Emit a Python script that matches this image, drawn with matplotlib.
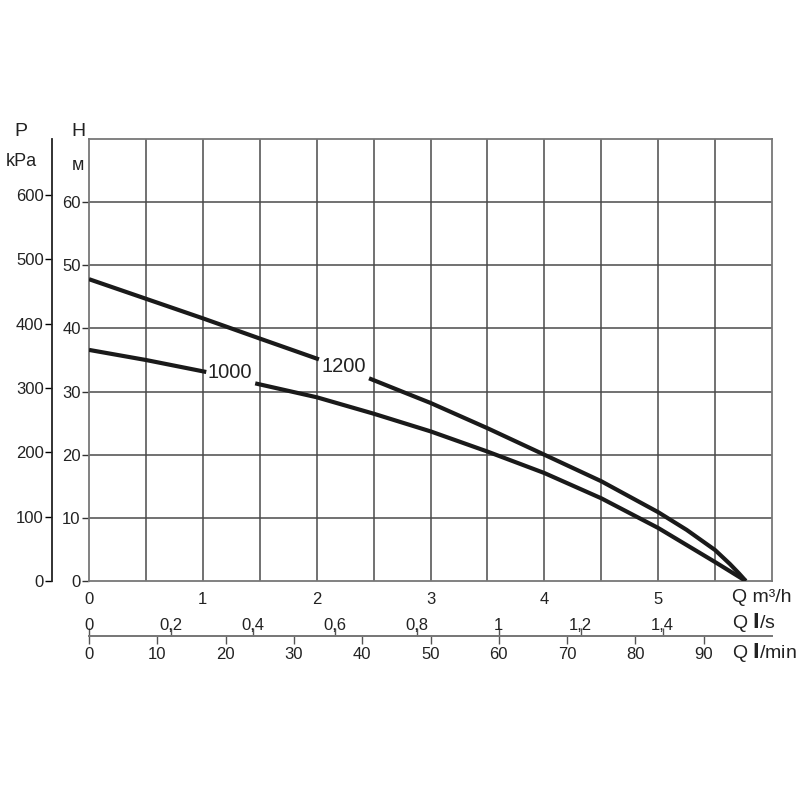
import numpy as np
import matplotlib
matplotlib.use("Agg")
import matplotlib.pyplot as plt

plt.rcParams['font.family'] = ['Liberation Sans', 'DejaVu Sans']
plt.rcParams['mathtext.fontset'] = 'dejavusans'

# pump curves, Q in m3/h, H in m (nan = gap for the label)
q_1200 = [0, 0.5, 1.0, 1.5, 2.02, np.nan, 2.46, 2.75, 3.0, 3.5, 4.0, 4.5, 5.0, 5.25, 5.5, 5.63, 5.71, 5.77]
h_1200 = [47.8, 44.7, 41.6, 38.4, 35.1, np.nan, 32.1, 30.0, 28.2, 24.2, 20.0, 15.8, 10.9, 8.1, 4.9, 2.7, 1.2, 0]

q_1000 = [0, 0.5, 1.03, np.nan, 1.46, 2.0, 2.5, 3.0, 3.5, 4.0, 4.5, 5.0, 5.25, 5.5, 5.77]
h_1000 = [36.6, 35.0, 33.1, np.nan, 31.3, 29.1, 26.5, 23.7, 20.5, 17.1, 13.1, 8.4, 5.7, 3.0, 0]

labels = ["1000", "1200"]
label_pos = [(1.24, 33.0), (2.24, 33.9)]

h_ticks = [0, 10, 20, 30, 40, 50, 60]
p_ticks = [0, 100, 200, 300, 400, 500, 600]
q_m3h_ticks = [0, 1, 2, 3, 4, 5]
q_ls_ticks = [0, 0.2, 0.4, 0.6, 0.8, 1, 1.2, 1.4]
q_ls_labels = ["0", "0,2", "0,4", "0,6", "0,8", "1", "1,2", "1,4"]
q_lmin_ticks = [0, 10, 20, 30, 40, 50, 60, 70, 80, 90]

grid_col = '#4a4a4a'
frame_col = '#777777'
txt_col = '#222222'

fig = plt.figure(figsize=(8, 8), dpi=100)
ax = fig.add_axes([89/800, 1-581/800, 683/800, 442/800])
ax.set_xlim(0, 6)
ax.set_ylim(0, 70)

for x in np.arange(0.5, 6, 0.5):
    ax.axvline(x, color=grid_col, lw=1.1, zorder=1)
for y in range(10, 70, 10):
    ax.axhline(y, color=grid_col, lw=1.1, zorder=1)

for s in ax.spines.values():
    s.set_color(frame_col)
    s.set_linewidth(1.3)

ax.plot(q_1200, h_1200, color='#1a1a1a', lw=3, zorder=3, solid_capstyle='butt', solid_joinstyle='round')
ax.plot(q_1000, h_1000, color='#1a1a1a', lw=3, zorder=3, solid_capstyle='butt', solid_joinstyle='round')
for lab, (lx, ly) in zip(labels, label_pos):
    ax.text(lx, ly, lab, fontsize=14.5, ha='center', va='center', color=txt_col)

ax.set_yticks(h_ticks)
ax.tick_params(axis='y', length=5, width=1, color='#333333', labelsize=12, pad=1, labelcolor=txt_col)
ax.set_xticks(q_m3h_ticks)
ax.tick_params(axis='x', length=0, labelsize=12, pad=8, labelcolor=txt_col)

# pressure axis
sec_p = ax.secondary_yaxis((52-89)/683, functions=(lambda h: h*9.81, lambda p: p/9.81))
sec_p.set_yticks(p_ticks)
sec_p.spines['left'].set_color(txt_col)
sec_p.spines['left'].set_linewidth(1.3)
sec_p.tick_params(length=5, width=1, labelsize=12, pad=1, labelcolor=txt_col)

# flow axes l/min and l/s
loc = (581-636)/442
sec_min = ax.secondary_xaxis(loc, functions=(lambda q: q*1000/60, lambda m: m*60/1000))
sec_min.set_xticks(q_lmin_ticks)
sec_min.spines['bottom'].set_color(frame_col)
sec_min.spines['bottom'].set_linewidth(1.3)
sec_min.tick_params(length=6, width=1, color='#555555', labelsize=12, pad=2, labelcolor=txt_col)

sec_s = ax.secondary_xaxis(loc, functions=(lambda q: q/3.6, lambda s: s*3.6))
sec_s.set_alignment('top')
sec_s.set_xticks(q_ls_ticks, q_ls_labels)
sec_s.spines['top'].set_color(frame_col)
sec_s.spines['top'].set_linewidth(1.3)
sec_s.tick_params(length=6, width=1, color='#555555', labelsize=12, pad=-4, labelcolor=txt_col)

# axis titles
fig.text(21/800, 1-132/800, "P", fontsize=14, ha='center', va='center', color=txt_col)
fig.text(21/800, 1-162/800, "kPa", fontsize=13, ha='center', va='center', color=txt_col)
fig.text(78/800, 1-132/800, "H", fontsize=14, ha='center', va='center', color=txt_col)
fig.text(78/800, 1-165/800, "м", fontsize=13, ha='center', va='center', color=txt_col)
fig.text(732/800, 1-598/800, "Q m³/h", fontsize=14, ha='left', va='center', color=txt_col)
fig.text(732/800, 1-622/800, r"Q $\mathbf{l}$/s", fontsize=14, ha='left', va='center', color=txt_col)
fig.text(732/800, 1-652/800, r"Q $\mathbf{l}$/min", fontsize=14, ha='left', va='center', color=txt_col)

fig.savefig("out.png", dpi=100)
